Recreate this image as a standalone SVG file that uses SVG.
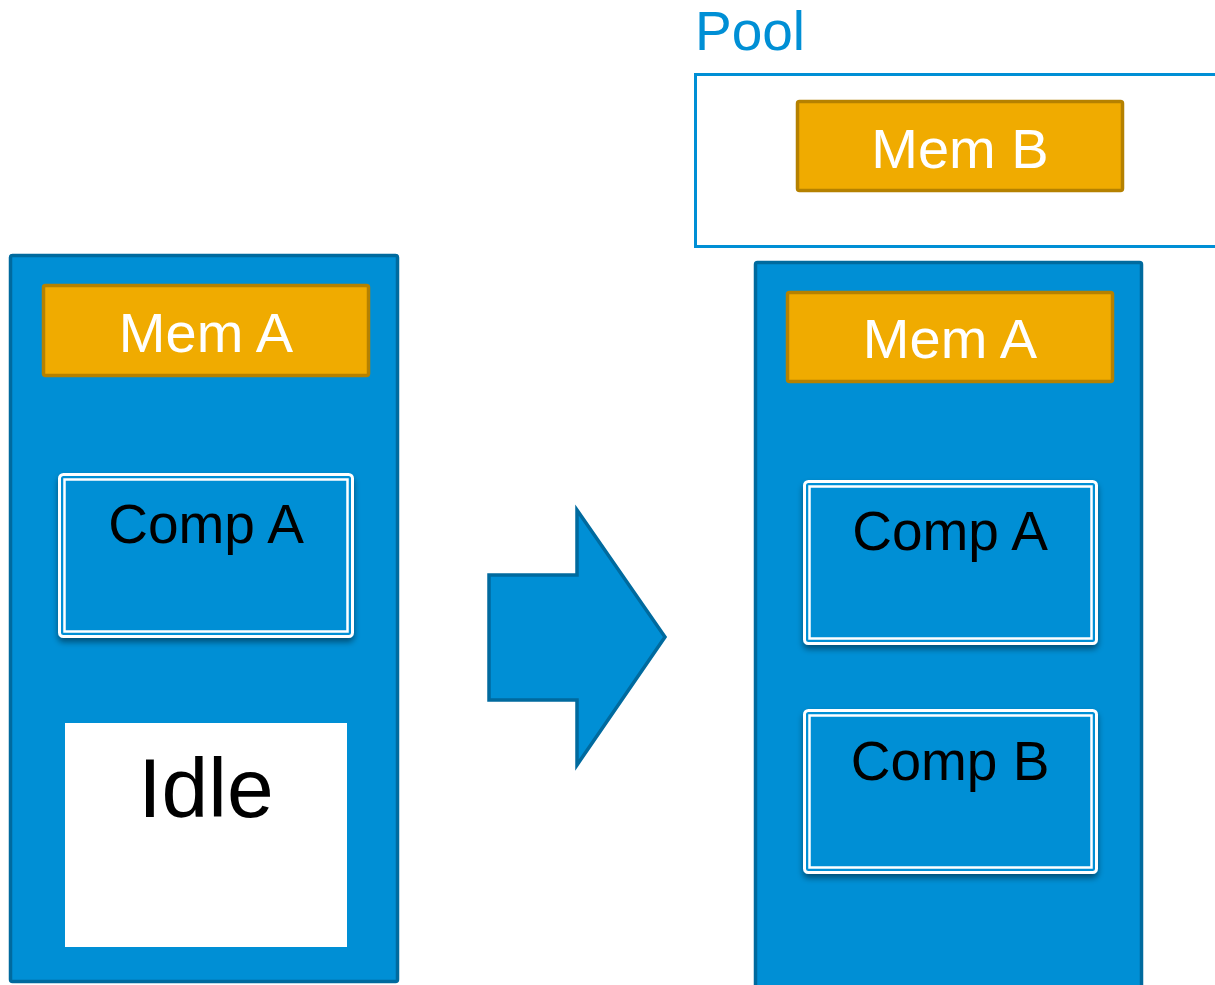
<svg xmlns="http://www.w3.org/2000/svg" width="1215" height="985" viewBox="0 0 1215 985">
  <defs>
    <filter id="shadow" x="-10%" y="-10%" width="120%" height="130%">
      <feGaussianBlur in="SourceAlpha" stdDeviation="3"/>
      <feOffset dx="0" dy="4" result="b"/>
      <feComponentTransfer><feFuncA type="linear" slope="0.45"/></feComponentTransfer>
      <feMerge><feMergeNode/><feMergeNode in="SourceGraphic"/></feMerge>
    </filter>
  </defs>
  <style>
    .panel { fill: #008fd5; stroke: #006a9e; stroke-width: 3.5; }
    .mem { fill: #f0ab00; stroke: #b58100; stroke-width: 3.5; }
    .mem-text { fill: #ffffff; font-family: "Liberation Sans", Arial, sans-serif; font-size: 56px; text-anchor: middle; }
    .comp-outer { fill: #008fd5; stroke: #ffffff; stroke-width: 3; }
    .comp-inner { fill: none; stroke: #ffffff; stroke-width: 2.5; }
    .comp-text { fill: #000000; font-family: "Liberation Sans", Arial, sans-serif; font-size: 55px; text-anchor: middle; }
    .pool { fill: #ffffff; stroke: #008fd5; stroke-width: 3; }
    .pool-text { fill: #008fd5; font-family: "Liberation Sans", Arial, sans-serif; font-size: 55px; }
  </style>

  <rect width="1215" height="985" fill="#ffffff"/>

  <!-- left: host before -->
  <g id="host-left">
    <rect class="panel" x="10.5" y="255.5" width="387" height="726" rx="2"/>
  </g>
  <g id="mem-a-left">
    <rect class="mem" x="43.5" y="285.5" width="325" height="90" rx="2"/>
    <text class="mem-text" x="206" y="352">Mem A</text>
  </g>
  <g id="comp-a-left" filter="url(#shadow)">
    <rect class="comp-outer" x="59.5" y="474.5" width="293" height="162" rx="4"/>
    <rect class="comp-inner" x="64.5" y="479.5" width="283" height="152"/>
    <text class="comp-text" x="206" y="543">Comp A</text>
  </g>
  <g id="idle-left">
    <rect x="65" y="723" width="282" height="224" fill="#ffffff"/>
    <text x="206" y="817" font-family="&quot;Liberation Sans&quot;, Arial, sans-serif" font-size="84" text-anchor="middle" fill="#000000">Idle</text>
  </g>

  <!-- transition arrow -->
  <g id="connectors">
    <polygon points="489,575 577,575 577,510 665,637 577,765 577,700 489,700" fill="#008fd5" stroke="#006a9e" stroke-width="3.5" stroke-linejoin="miter"/>
  </g>

  <!-- pool -->
  <g id="pool">
    <text class="pool-text" x="695" y="50">Pool</text>
    <rect class="pool" x="695.5" y="74.5" width="540" height="172"/>
  </g>
  <g id="mem-b-pool">
    <rect class="mem" x="797.5" y="101.5" width="325" height="89" rx="2"/>
    <text class="mem-text" x="960" y="168">Mem B</text>
  </g>

  <!-- right: host after -->
  <g id="host-right">
    <rect class="panel" x="755.5" y="262.5" width="386" height="740" rx="2"/>
  </g>
  <g id="mem-a-right">
    <rect class="mem" x="787.5" y="292.5" width="325" height="89" rx="2"/>
    <text class="mem-text" x="950" y="358">Mem A</text>
  </g>
  <g id="comp-a-right" filter="url(#shadow)">
    <rect class="comp-outer" x="804.5" y="481.5" width="292" height="162" rx="4"/>
    <rect class="comp-inner" x="809.5" y="486.5" width="282" height="152"/>
    <text class="comp-text" x="950" y="550">Comp A</text>
  </g>
  <g id="comp-b-right" filter="url(#shadow)">
    <rect class="comp-outer" x="804.5" y="710.5" width="292" height="162" rx="4"/>
    <rect class="comp-inner" x="809.5" y="715.5" width="282" height="152"/>
    <text class="comp-text" x="950" y="780">Comp B</text>
  </g>
</svg>
